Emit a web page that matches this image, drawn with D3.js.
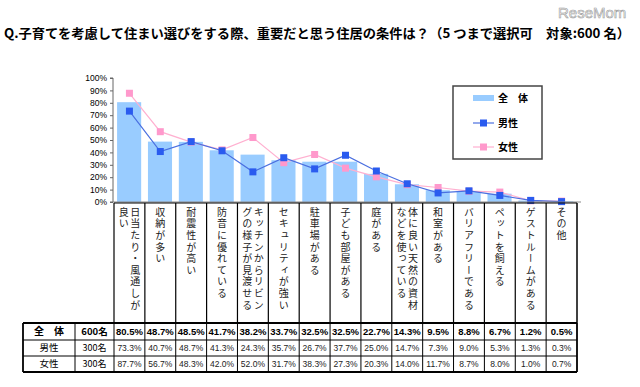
<!DOCTYPE html>
<html>
<head>
<meta charset="utf-8">
<script src="https://cdn.jsdelivr.net/npm/d3@7"></script>
<style>
  body { margin: 0; background: #fff; }
  svg { display: block; font-family: "Noto Sans CJK JP", "Noto Sans", sans-serif; }
  .y-axis text { font-size: 8.5px; fill: #000; font-family: Arial, "Liberation Sans", sans-serif; }
  .y-axis path, .y-axis line { stroke: #666; }
</style>
</head>
<body>
<svg id="chart" width="640" height="387"></svg>
<script>
/* ── Data ─────────────────────────────────────────────────────────────── */
const categories = [
  '日当たり・風通しが良い', '収納が多い', '耐震性が高い', '防音に優れている',
  'キッチンからリビングの様子が見渡せる', 'セキュリティが強い', '駐車場がある',
  '子ども部屋がある', '庭がある', '体に良い天然の資材などを使っている', '和室がある',
  'バリアフリーである', 'ペットを飼える', 'ゲストルームがある', 'その他'
];
const totalValues  = [80.5, 48.7, 48.5, 41.7, 38.2, 33.7, 32.5, 32.5, 22.7, 14.3, 9.5, 8.8, 6.7, 1.2, 0.5];
const maleValues   = [73.3, 40.7, 48.7, 41.3, 24.3, 35.7, 26.7, 37.7, 25.0, 14.7, 7.3, 9.0, 5.3, 1.3, 0.3];
const femaleValues = [87.7, 56.7, 48.3, 42.0, 52.0, 31.7, 38.3, 27.3, 20.3, 14.0, 11.7, 8.7, 8.0, 1.0, 0.7];
const seriesNames  = ['全　体', '男性', '女性'];
const seriesCounts = ['600名', '300名', '300名'];
const yTicks = [0, 10, 20, 30, 40, 50, 60, 70, 80, 90, 100];

const title = 'Q.子育てを考慮して住まい選びをする際、重要だと思う住居の条件は？（5 つまで選択可　対象:600 名）';

/* ── Layout ───────────────────────────────────────────────────────────── */
const C = { barBlue: '#99ccff', male: '#2a5bef', maleLine: '#4a6fe0', female: '#ff99cc', femaleLine: '#ffb0d0' };
const plot = { left: 113, right: 577, top: 78, bottom: 202 };
const labelBox = { top: 203, bottom: 323 };
const table = { left: 23, col1: 75, col2: 114, rows: [323, 340, 356, 372] };

const svg = d3.select('#chart');

const x = d3.scaleBand().domain(categories).range([plot.left + 1, plot.right]).padding(0);
const y = d3.scaleLinear().domain([0, 100]).range([plot.bottom, plot.top]);
const cx = c => x(c) + x.bandwidth() / 2;

/* Title + logo */
svg.append('text').attr('x', 558).attr('y', 18)
  .attr('font-family', 'Arial, "Liberation Sans", sans-serif')
  .attr('font-size', 15).attr('fill', '#fff').attr('stroke', '#999').attr('stroke-width', 0.6)
  .text('ReseMom');
svg.append('text').attr('x', 4).attr('y', 38)
  .attr('font-size', 13).attr('font-weight', 'bold')
  .attr('textLength', 626).attr('lengthAdjust', 'spacingAndGlyphs')
  .text(title);

/* Y axis */
svg.append('g').attr('class', 'y-axis')
  .attr('transform', `translate(${plot.left},0)`)
  .call(d3.axisLeft(y).tickValues(yTicks).tickSize(3).tickPadding(3).tickFormat(d => d + '%'))
  .call(g => g.select('.domain').attr('d', `M-3,${plot.top}H0V${plot.bottom}H-3`));

/* Bars */
svg.append('g').selectAll('rect').data(categories).join('rect')
  .attr('x', c => x(c) + x.bandwidth() * 0.1)
  .attr('width', x.bandwidth() * 0.78)
  .attr('y', (c, i) => y(totalValues[i]))
  .attr('height', (c, i) => y(0) - y(totalValues[i]))
  .attr('fill', C.barBlue);

/* Lines */
function drawSeries(vals, lineColor, markColor) {
  const line = d3.line().x((v, i) => cx(categories[i])).y(v => y(v));
  svg.append('path').datum(vals).attr('d', line)
    .attr('fill', 'none').attr('stroke', lineColor).attr('stroke-width', 1.2);
  svg.append('g').selectAll('rect').data(vals).join('rect')
    .attr('x', (v, i) => cx(categories[i]) - 3.5).attr('y', v => y(v) - 3.5)
    .attr('width', 7).attr('height', 7).attr('fill', markColor);
}
drawSeries(femaleValues, C.femaleLine, C.female);
drawSeries(maleValues, C.maleLine, C.male);

/* x axis baseline */
svg.append('line').attr('x1', plot.left).attr('x2', plot.right + 4)
  .attr('y1', plot.bottom).attr('y2', plot.bottom).attr('stroke', '#888');

/* Legend */
const lg = svg.append('g');
lg.append('rect').attr('x', 453).attr('y', 86).attr('width', 89).attr('height', 73)
  .attr('fill', '#fff').attr('stroke', '#444').attr('stroke-width', 1.5);
const legendY = [98, 123, 147];
lg.append('rect').attr('x', 473).attr('y', legendY[0] - 3).attr('width', 21).attr('height', 6).attr('fill', C.barBlue);
[[C.maleLine, C.male], [C.femaleLine, C.female]].forEach(([lc, mc], i) => {
  const ly = legendY[i + 1];
  lg.append('line').attr('x1', 473).attr('x2', 494).attr('y1', ly).attr('y2', ly).attr('stroke', lc).attr('stroke-width', 1.2);
  lg.append('rect').attr('x', 480).attr('y', ly - 3.5).attr('width', 7).attr('height', 7).attr('fill', mc);
});
seriesNames.forEach((n, i) => {
  lg.append('text').attr('x', 498).attr('y', legendY[i]).attr('dy', '0.35em')
    .attr('font-size', 10).attr('font-weight', 'bold').text(n);
});

/* Category label boxes (vertical text) */
const lb = svg.append('g');
lb.append('line').attr('x1', plot.left + 1).attr('x2', plot.right)
  .attr('y1', labelBox.top).attr('y2', labelBox.top).attr('stroke', '#000').attr('stroke-width', 1.2);
categories.forEach(c => {
  lb.append('line').attr('x1', x(c)).attr('x2', x(c))
    .attr('y1', labelBox.top).attr('y2', labelBox.bottom).attr('stroke', '#000').attr('stroke-width', 1.2);
  const chunks = [];
  for (let i = 0; i < c.length; i += 9) chunks.push(c.slice(i, i + 9));
  const colW = 11.5;
  const startX = cx(c) + (chunks.length - 1) * colW / 2;
  chunks.forEach((s, j) => {
    lb.append('text')
      .attr('x', startX - j * colW).attr('y', labelBox.top + 4)
      .style('writing-mode', 'vertical-rl')
      .attr('font-size', 10).attr('letter-spacing', 1.6).attr('fill', '#222')
      .text(s);
  });
});
lb.append('line').attr('x1', plot.right).attr('x2', plot.right)
  .attr('y1', labelBox.top).attr('y2', labelBox.bottom).attr('stroke', '#000').attr('stroke-width', 1.5);

/* Table */
const tb = svg.append('g');
const rows = [totalValues, maleValues, femaleValues];
rows.forEach((vals, r) => {
  const yc = (table.rows[r] + table.rows[r + 1]) / 2;
  const bold = r === 0;
  tb.append('text').attr('x', (table.left + table.col1) / 2).attr('y', yc).attr('dy', '0.35em')
    .attr('text-anchor', 'middle').attr('font-size', bold ? 10 : 9.5).attr('font-weight', bold ? 'bold' : 'normal')
    .text(seriesNames[r]);
  tb.append('text').attr('x', (table.col1 + table.col2) / 2).attr('y', yc).attr('dy', '0.35em')
    .attr('text-anchor', 'middle').attr('font-size', bold ? 9.5 : 9).attr('font-weight', bold ? 'bold' : 'normal')
    .text(seriesCounts[r]);
  vals.forEach((v, i) => {
    tb.append('text').attr('x', cx(categories[i])).attr('y', yc).attr('dy', '0.35em')
      .attr('text-anchor', 'middle')
      .attr('font-family', 'Arial, "Liberation Sans", sans-serif')
      .attr('font-size', bold ? 9.5 : 8.5).attr('font-weight', bold ? 'bold' : 'normal')
      .attr('fill', bold ? '#000' : '#222')
      .text(v.toFixed(1) + '%');
  });
});
table.rows.forEach((ry, i) => {
  tb.append('line').attr('x1', table.left).attr('x2', plot.right).attr('y1', ry).attr('y2', ry)
    .attr('stroke', '#000').attr('stroke-width', i === 0 || i === 3 ? 1.8 : 1);
});
const vx = [table.left, table.col1, table.col2].concat(categories.slice(1).map(c => x(c)), [plot.right]);
vx.forEach((xx, i) => {
  tb.append('line').attr('x1', xx).attr('x2', xx).attr('y1', table.rows[0]).attr('y2', table.rows[3])
    .attr('stroke', '#000').attr('stroke-width', i === 0 || i === vx.length - 1 ? 1.8 : 1);
});
</script>
</body>
</html>
